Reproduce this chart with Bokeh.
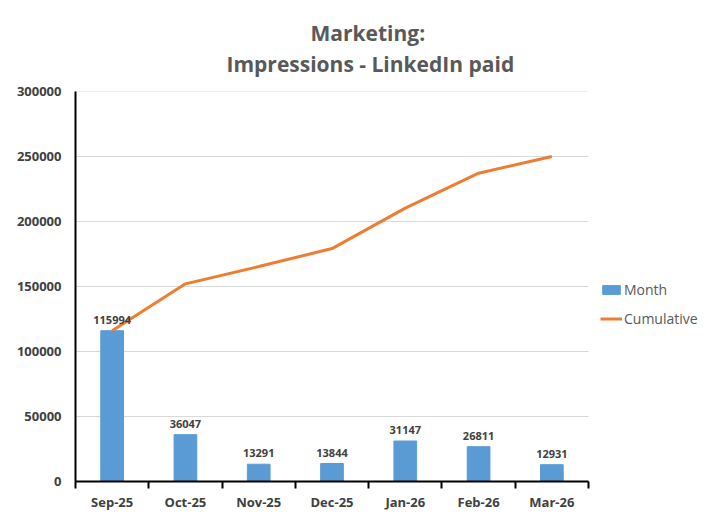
from bokeh.plotting import figure
from bokeh.models import (ColumnDataSource, Range1d, FixedTicker, NumeralTickFormatter,
                          Legend, LegendItem, LabelSet, Title)
from bokeh.embed import file_html
from bokeh.resources import INLINE
from bokeh.core.properties import value

months = ["Sep-25", "Oct-25", "Nov-25", "Dec-25", "Jan-26", "Feb-26", "Mar-26"]
month_values = [115994, 36047, 13291, 13844, 31147, 26811, 12931]
cumulative_values = [115994, 152041, 165332, 179176, 210323, 237134, 250065]
y_ticks = [0, 50000, 100000, 150000, 200000, 250000, 300000]
title_lines = ["Marketing:", "Impressions - LinkedIn paid"]

x_pos = [i + 0.5 for i in range(len(months))]
src = ColumnDataSource(dict(x=x_pos, month=month_values, cum=cumulative_values,
                            lbl=[str(v) for v in month_values]))

FONT = "Open Sans"
W, H = 703, 513
LEFT = 75          # frame left (px)
AXIS_END = 588     # where the category axis ends (px)
n = len(months)
# frame spans to the right edge so the legend can sit inside it; data area ends at AXIS_END
x_end = n * (W - LEFT) / (AXIS_END - LEFT)

p = figure(width=W, height=H, output_backend="svg", toolbar_location=None,
           x_range=Range1d(0, x_end), y_range=Range1d(0, 300000),
           min_border_left=LEFT, min_border_right=0, min_border_top=91, min_border_bottom=20)

# titles (first added sits closest to the frame)
t2 = Title(text=title_lines[1], align="left", offset=151, standoff=28, text_font=FONT,
           text_font_size="21px", text_font_style="bold", text_color="#595959")
t1 = Title(text=title_lines[0], align="left", offset=235, standoff=-26, text_font=FONT,
           text_font_size="21px", text_font_style="bold", text_color="#595959")
p.add_layout(t2, "above")
p.add_layout(t1, "above")

# horizontal gridlines limited to the category area
p.segment(x0=[0] * len(y_ticks), x1=[n] * len(y_ticks), y0=y_ticks, y1=y_ticks,
          line_color="#D9D9D9", line_width=1)

r_bar = p.vbar(x="x", top="month", width=0.31, source=src, fill_color="#5B9BD5", line_color="#5B9BD5")
r_line = p.line(x="x", y="cum", source=src, line_color="#ED7D31", line_width=3)

labels = LabelSet(x="x", y="month", text="lbl", source=src, text_align="center",
                  text_baseline="bottom", y_offset=7, text_font=value(FONT), text_font_size="11px",
                  text_font_style="bold", text_color="#404040")
p.add_layout(labels)

legend = Legend(items=[LegendItem(label="Month", renderers=[r_bar]),
                       LegendItem(label="Cumulative", renderers=[r_line])],
                location=(AXIS_END - LEFT + 12, 153), padding=0, margin=0, spacing=9,
                border_line_color=None, background_fill_alpha=0,
                label_text_font=FONT, label_text_font_size="14px", label_text_color="#595959",
                glyph_width=22, glyph_height=11, label_standoff=2, label_height=20)
p.add_layout(legend)

# x axis
p.xaxis.bounds = (0, n)
p.xaxis.ticker = FixedTicker(ticks=x_pos, minor_ticks=list(range(n + 1)))
p.xaxis.major_label_overrides = {x: m for x, m in zip(x_pos, months)}
p.xaxis.major_tick_line_color = None
p.xaxis.major_tick_out = 0
p.xaxis.major_tick_in = 0
p.xaxis.minor_tick_out = 7
p.xaxis.minor_tick_in = 0
p.xaxis.minor_tick_line_color = "black"
p.xaxis.minor_tick_line_width = 2
p.xaxis.axis_line_color = "black"
p.xaxis.axis_line_width = 2
p.xaxis.major_label_standoff = 4
p.xaxis.major_label_text_font = FONT
p.xaxis.major_label_text_font_size = "13px"
p.xaxis.major_label_text_font_style = "bold"
p.xaxis.major_label_text_color = "#404040"

# y axis
p.yaxis.ticker = FixedTicker(ticks=y_ticks)
p.yaxis.formatter = NumeralTickFormatter(format="0")
p.yaxis.major_tick_out = 0
p.yaxis.major_tick_in = 0
p.yaxis.minor_tick_line_color = None
p.yaxis.axis_line_color = "black"
p.yaxis.axis_line_width = 2
p.yaxis.major_label_standoff = 14
p.yaxis.major_label_text_font = FONT
p.yaxis.major_label_text_font_size = "13px"
p.yaxis.major_label_text_font_style = "bold"
p.yaxis.major_label_text_color = "#404040"

p.xgrid.visible = False
p.ygrid.visible = False
p.outline_line_color = None

open("out.html", "w").write(file_html(p, INLINE))
